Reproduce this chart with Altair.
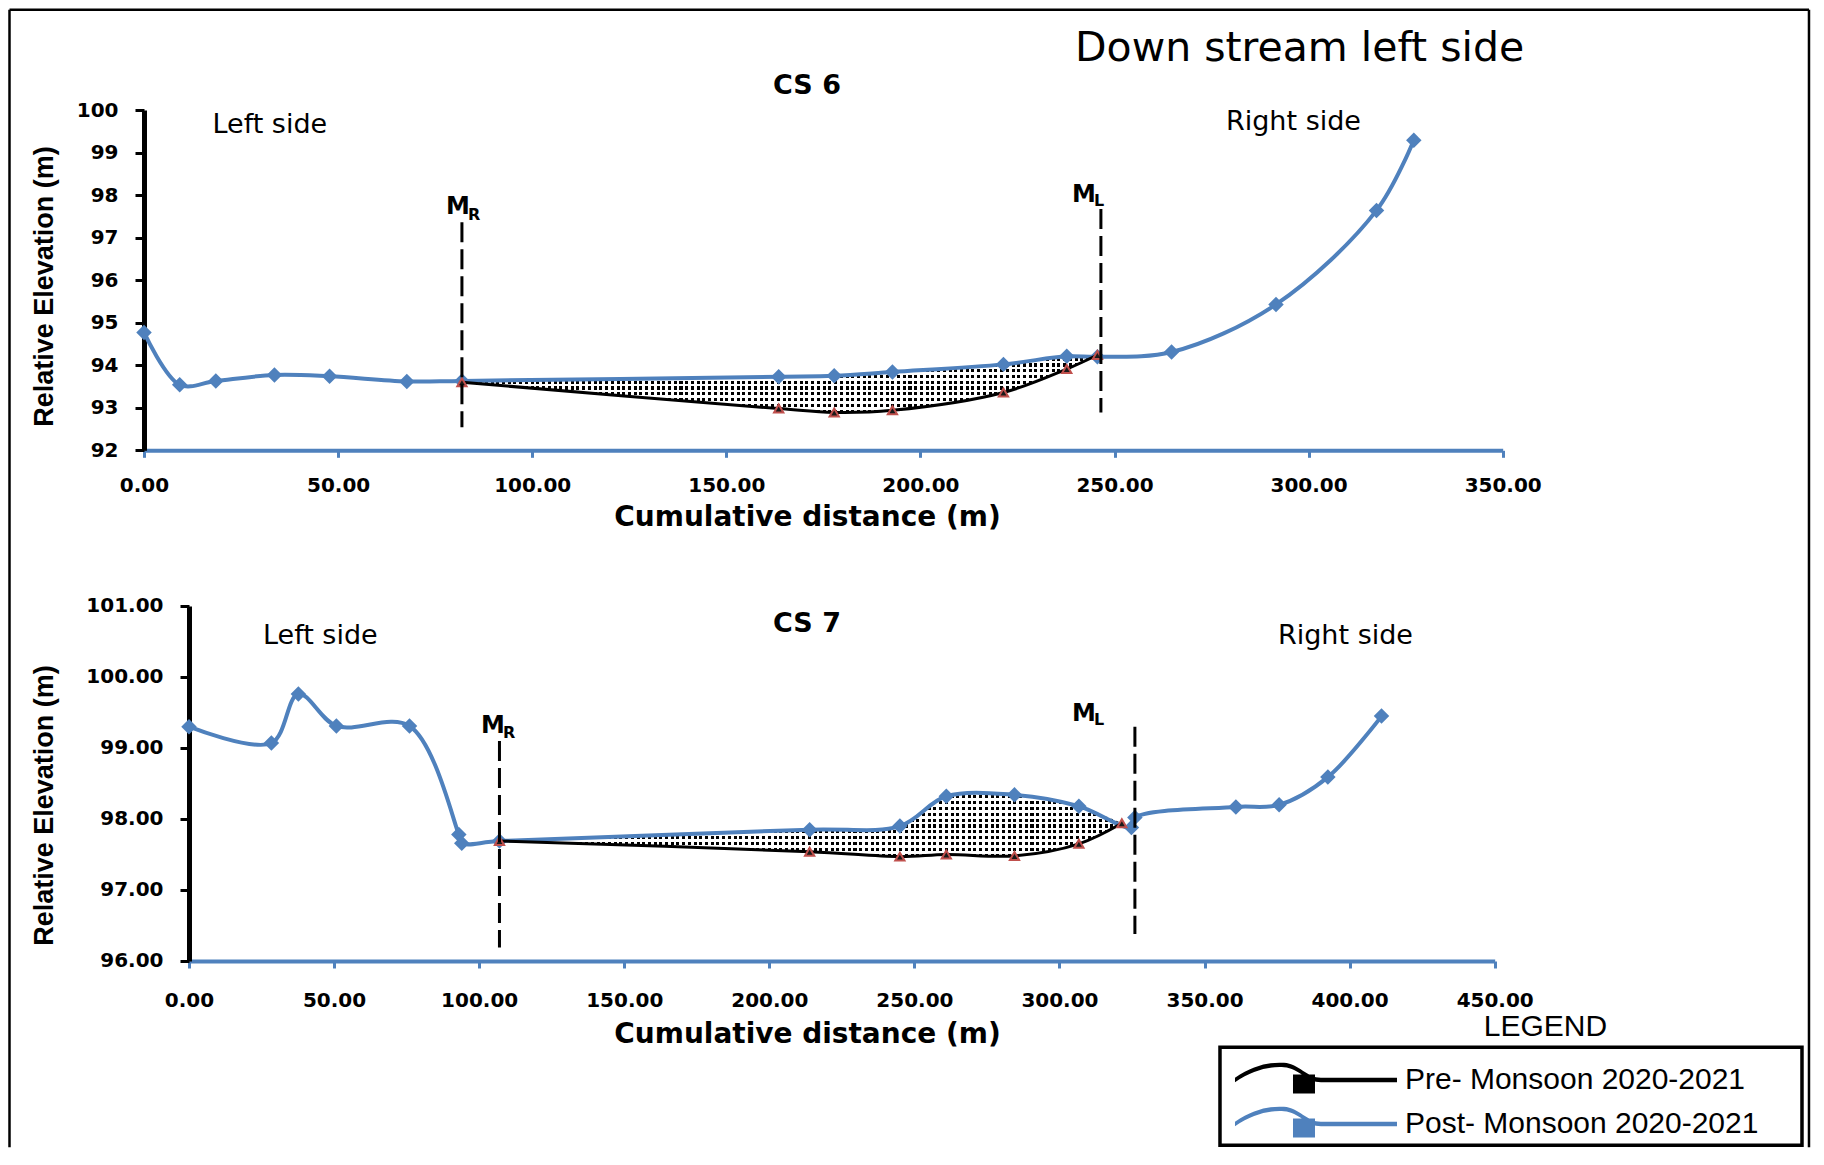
import altair as alt
import pandas as pd

BLUE = "#4F81BD"
RED = "#C0504D"
SERIES = ["Pre- Monsoon 2020-2021", "Post- Monsoon 2020-2021"]

# ---------------- CS 6 ----------------
cs6_post_x = [0.0, 9.2, 18.5, 33.6, 47.8, 67.7, 81.9, 163.5, 177.8, 192.8, 221.4, 237.7, 245.6, 264.7, 291.6, 317.5, 327.1]
cs6_post_y = [94.77, 93.54, 93.63, 93.77, 93.74, 93.62, 93.63, 93.73, 93.75, 93.84, 94.02, 94.21, 94.20, 94.31, 95.43, 97.64, 99.29]
cs6_pre_x = [81.9, 163.5, 177.8, 192.8, 221.4, 237.7, 245.6]
cs6_pre_y = [93.60, 92.98, 92.89, 92.94, 93.36, 93.91, 94.24]
cs6_marker_x = [81.9, 246.5]
cs6_marker_top = [97.36, 97.67]
cs6_marker_bottom = [92.54, 92.89]
cs6_y_ticks = [92, 93, 94, 95, 96, 97, 98, 99, 100]

# ---------------- CS 7 ----------------
cs7_post_x = [0.0, 28.4, 37.7, 50.8, 76.0, 93.0, 94.0, 107.0, 213.9, 245.0, 261.0, 284.5, 306.7, 324.8, 326.0, 360.8, 375.7, 392.5, 411.0]
cs7_post_y = [99.30, 99.07, 99.76, 99.31, 99.31, 97.78, 97.66, 97.69, 97.85, 97.90, 98.32, 98.34, 98.18, 97.88, 98.02, 98.17, 98.20, 98.59, 99.45]
cs7_pre_x = [107.0, 213.9, 245.0, 261.0, 284.5, 306.7, 321.5]
cs7_pre_y = [97.69, 97.54, 97.47, 97.50, 97.48, 97.65, 97.94]
cs7_marker_x = [107.0, 326.0]
cs7_marker_top = [99.10, 99.30]
cs7_marker_bottom = [96.19, 96.38]
cs7_y_ticks = [96, 97, 98, 99, 100, 101]

ONE = pd.DataFrame({"k": [0]})

LEGEND_PATH = (
    "M-1,-0.22 C0.8,-1.42 2.4,-1.82 3.9,-1.72 C5.4,-1.62 6.2,-0.22 7.6,-0.22 "
    "L15.2,-0.22 L15.2,0.22 L7.6,0.22 C6.2,0.22 5.4,-1.18 3.9,-1.28 "
    "C2.4,-1.38 0.8,-0.98 -1,0.22 Z M4.8,-0.55 L7,-0.55 L7,1.35 L4.8,1.35 Z"
)

PLOT_W = 1358.7
PLOT_H = 851.0


def channel_table(pre_x, pre_y, post_x, post_y):
    rows = []
    for x, y in zip(pre_x, pre_y):
        up = y
        for px, py in zip(post_x, post_y):
            if abs(px - x) < 1.0:
                up = py
        rows.append({"x": x, "upper": up, "lower": y})
    return pd.DataFrame(rows)


def stripes(n, duty, on, off, bands):
    stops = []
    for i in range(n):
        a = round(i / n, 6)
        b = round((i + duty) / n, 6)
        c = round((i + 1) / n, 6)
        stops += [
            alt.GradientStop(color=on, offset=a),
            alt.GradientStop(color=on, offset=b),
            alt.GradientStop(color=off, offset=b),
            alt.GradientStop(color=off, offset=c),
        ]
    if bands:
        return alt.LinearGradient(gradient="linear", stops=stops, x1=0, x2=0, y1=0, y2=1)
    return alt.LinearGradient(gradient="linear", stops=stops, x1=0, x2=1, y1=0, y2=0)


def txt(text, x, y, size, bold=False, font="DejaVu Sans", align="left"):
    return alt.Chart(ONE).mark_text(
        text=text, font=font, fontSize=size,
        fontWeight="bold" if bold else "normal",
        align=align, baseline="alphabetic", color="black",
    ).encode(x=alt.value(x), y=alt.value(y))


def vline(x, y1, y2, width=2.5):
    return alt.Chart(ONE).mark_rule(color="black", strokeWidth=width).encode(
        x=alt.value(x), y=alt.value(y1), y2=alt.value(y2))


def hline(x1, x2, y, width=2.5):
    return alt.Chart(ONE).mark_rule(color="black", strokeWidth=width).encode(
        x=alt.value(x1), x2=alt.value(x2), y=alt.value(y))


def panel(post_x, post_y, pre_x, pre_y, mk_x, mk_top, mk_bot,
          xdom, xrange, ydom, yrange, yvals, yfmt,
          x_offset, y_offset, xlab_pad, xt_x, xt_y, yt_x, yt_y):
    post = pd.DataFrame({"x": post_x, "y": post_y})
    pre = pd.DataFrame({"x": pre_x, "y": pre_y})
    chan = channel_table(pre_x, pre_y, post_x, post_y)
    mk = pd.DataFrame({"x": mk_x, "top": mk_top, "bottom": mk_bot})

    xs = alt.Scale(domain=xdom, range=xrange, nice=False, zero=False)
    ys = alt.Scale(domain=ydom, range=yrange, nice=False, zero=False)
    xaxis = alt.Axis(
        orient="bottom", offset=x_offset,
        values=list(range(0, int(xdom[1]) + 1, 50)), format=".2f", grid=False,
        domainColor=BLUE, domainWidth=4, tickColor=BLUE, tickWidth=3, tickSize=7,
        labelFont="DejaVu Sans", labelFontWeight="bold", labelFontSize=20,
        labelColor="black", labelPadding=xlab_pad, labelFlush=False, labelOverlap=False,
        title="Cumulative distance (m)", titleFont="DejaVu Sans", titleFontSize=28,
        titleFontWeight="bold", titleColor="black", titleX=xt_x, titleY=xt_y,
        titleBaseline="alphabetic", titleAlign="center",
    )
    yaxis = alt.Axis(
        orient="left", offset=y_offset,
        values=yvals, format=yfmt, grid=False,
        domainColor="black", domainWidth=5, tickColor="black", tickWidth=3, tickSize=9,
        labelFont="DejaVu Sans", labelFontWeight="bold", labelFontSize=20,
        labelColor="black", labelPadding=17, labelFlush=False, labelOverlap=False,
        title="Relative Elevation (m)", titleFont="Liberation Sans", titleFontSize=27,
        titleFontWeight="bold", titleColor="black", titleX=yt_x, titleY=yt_y,
    )
    X = alt.X("x:Q", scale=xs, axis=xaxis)

    px_per_x = abs(xrange[1] - xrange[0]) / (xdom[1] - xdom[0])
    px_per_y = abs(yrange[0] - yrange[1]) / (ydom[1] - ydom[0])
    span_y = max(chan["upper"]) - min(chan["lower"]) + 0.05
    nx = max(1, round(px_per_x * (max(pre_x) - min(pre_x)) / 5.7))
    ny = max(1, round(px_per_y * span_y / 5.7))

    area_dark = alt.Chart(chan).mark_area(
        interpolate="catmull-rom", fill=stripes(nx, 0.53, "black", "rgba(0,0,0,0)", False)
    ).encode(x=X, y=alt.Y("upper:Q", scale=ys, axis=yaxis), y2=alt.Y2("lower"))
    area_light = alt.Chart(chan).mark_area(
        interpolate="catmull-rom", fill=stripes(ny, 0.47, "white", "rgba(255,255,255,0)", True)
    ).encode(x=X, y=alt.Y("upper:Q", scale=ys, axis=yaxis), y2=alt.Y2("lower"))

    Y = alt.Y("y:Q", scale=ys, axis=yaxis)
    post_line = alt.Chart(post).mark_line(
        color=BLUE, strokeWidth=4, interpolate="catmull-rom").encode(x=X, y=Y)
    post_pts = alt.Chart(post).mark_point(
        shape="diamond", filled=True, color=BLUE, size=240, opacity=1).encode(x=X, y=Y)
    pre_line = alt.Chart(pre).mark_line(
        color="black", strokeWidth=3, interpolate="catmull-rom").encode(x=X, y=Y)
    pre_pts = alt.Chart(pre).mark_point(
        shape="triangle-up", filled=True, fill="#1a1a1a", stroke=RED,
        strokeWidth=2, size=85, opacity=1).encode(x=X, y=Y)
    marks = alt.Chart(mk).mark_rule(
        color="black", strokeWidth=3, strokeDash=[20, 7]
    ).encode(x=X, y=alt.Y("top:Q", scale=ys, axis=yaxis), y2=alt.Y2("bottom"))

    return alt.layer(area_dark, area_light, post_line, post_pts, pre_line, pre_pts, marks)


# ---- top panel (CS 6) ----
top = panel(cs6_post_x, cs6_post_y, cs6_pre_x, cs6_pre_y,
            cs6_marker_x, cs6_marker_top, cs6_marker_bottom,
            [0, 350], [0, PLOT_W], [92, 100], [340.3, 0], cs6_y_ticks, "d",
            -(PLOT_H - 340.3), 0, 18, 663, 75, -85, 176)

# ---- bottom panel (CS 7) ----
bottom = panel(cs7_post_x, cs7_post_y, cs7_pre_x, cs7_pre_y,
               cs7_marker_x, cs7_marker_top, cs7_marker_bottom,
               [0, 450], [45, 1350.7], [96, 101], [PLOT_H, 496], cs7_y_ticks, ".2f",
               0, -45, 23, 663, 81.3, -130, 695)

# ---- legend source (invisible marks that carry the colour legend) ----
legend_df = pd.DataFrame({"series": SERIES})
legend_src = alt.Chart(legend_df).mark_point(filled=True, opacity=0, size=10).encode(
    color=alt.Color(
        "series:N",
        scale=alt.Scale(domain=SERIES, range=["black", BLUE]),
        legend=alt.Legend(
            title=None, orient="none", legendX=1086, legendY=955,
            symbolType=LEGEND_PATH, symbolSize=400, symbolStrokeWidth=0,
            symbolOpacity=1, labelFont="Liberation Sans", labelFontSize=30,
            labelColor="black", labelOffset=145, labelLimit=0, rowPadding=11,
            padding=0, direction="vertical",
        ),
    )
)

deco = alt.layer(
    # titles and annotations, top panel
    txt("Down stream left side", 931, -48.7, 41),
    txt("CS 6", 663, -15.7, 27, bold=True, align="center"),
    txt("Left side", 68.5, 22.6, 27),
    txt("Right side", 1082, 20.3, 27),
    txt("M", 302, 104.3, 24, bold=True),
    txt("R", 324, 110.3, 16, bold=True),
    txt("M", 928, 92.3, 24, bold=True),
    txt("L", 950, 96.3, 16, bold=True),
    # bottom panel
    txt("CS 7", 663, 522.3, 27, bold=True, align="center"),
    txt("Left side", 119, 534.3, 27),
    txt("Right side", 1134, 534.3, 27),
    txt("M", 337, 623.3, 24, bold=True),
    txt("R", 359, 628.3, 16, bold=True),
    txt("M", 928, 611.3, 24, bold=True),
    txt("L", 950, 615.3, 16, bold=True),
    # legend heading and box
    txt("LEGEND", 1401.5, 926.5, 30, font="Liberation Sans", align="center"),
    alt.Chart(ONE).mark_rect(fillOpacity=0, stroke="black", strokeWidth=3.5).encode(
        x=alt.value(1076), x2=alt.value(1658), y=alt.value(937.3), y2=alt.value(1035.3)),
    # outer frame
    hline(-134.5, 1665, -100.2),
    vline(-134.5, -100.2, 1037.3),
    vline(1665, -100.2, 1037.3),
    legend_src,
)

chart = alt.layer(top, bottom, deco).resolve_scale(
    x="independent", y="independent"
).properties(
    width=PLOT_W, height=PLOT_H,
    padding={"left": 0, "top": 0, "right": 0, "bottom": 0},
    background="white",
).configure_view(stroke="transparent")

chart.save("out.html", embed_options={"renderer": "svg", "actions": False})
